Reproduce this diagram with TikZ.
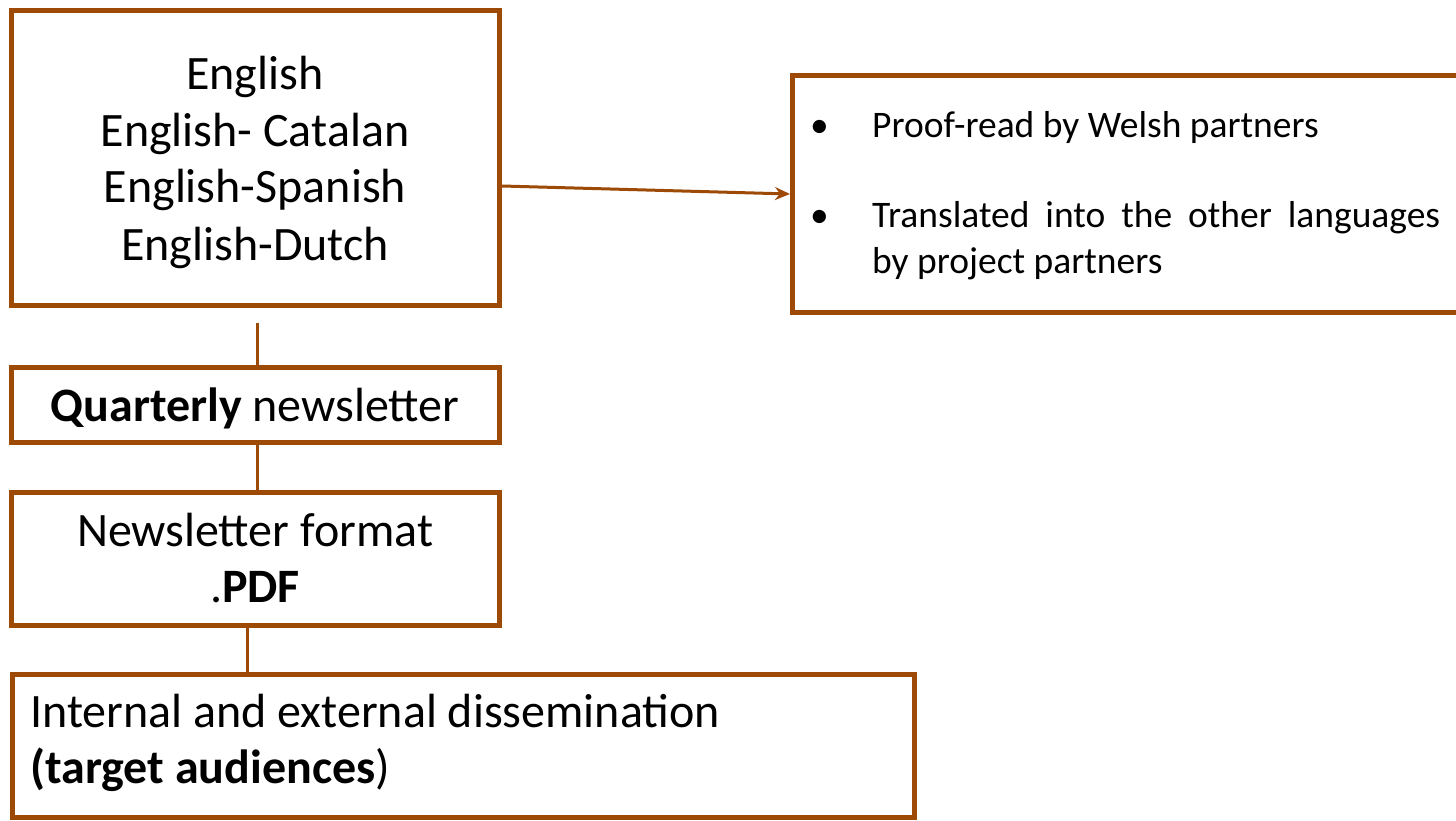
\documentclass[tikz,border=0pt]{standalone}
\usepackage{fontspec}
\setmainfont{Carlito}
\usetikzlibrary{arrows.meta}
\definecolor{brn}{RGB}{156,74,6}
\tikzset{
  box/.style={draw=brn, line width=5pt, fill=white, inner sep=0pt},
  conn/.style={draw=brn, line width=3pt},
  arr/.style={draw=brn, line width=3pt, -{Stealth[length=15pt,width=13pt]}},
  big/.style={inner sep=0pt, anchor=base, font=\fontsize{48}{57}\selectfont},
  bigl/.style={inner sep=0pt, anchor=base west, font=\fontsize{48}{57}\selectfont},
  small/.style={inner sep=0pt, anchor=base west, font=\fontsize{37.5}{45}\selectfont},
}
\begin{document}
\begin{tikzpicture}[x=1pt,y=-1pt]
\useasboundingbox (0,0) rectangle (1456,821);
% boxes
\node[box, minimum width=488pt, minimum height=295pt] (b1) at (255.5,158) {};
\node[box, minimum width=488pt, minimum height=75pt] (b2) at (255.5,405) {};
\node[box, minimum width=488pt, minimum height=133pt] (b3) at (255.5,559) {};
\node[box, minimum width=902pt, minimum height=143pt] (b4) at (463.5,746) {};
\node[box, minimum width=700pt, minimum height=237.5pt, anchor=west] (b5) at (790,194) {};
% texts box 1
\node[big] (t11) at (255,90) {English};
\node[big] (t12) at (255,147) {English- Catalan};
\node[big] (t13) at (255,203) {English-Spanish};
\node[big] (t14) at (255,260) {English-Dutch};
% box 2
\node[big] (t2) at (255,421) {\textbf{Quarterly} newsletter};
% box 3
\node[big] (t31) at (255,546) {Newsletter format};
\node[big] (t32) at (255,602) {.\textbf{PDF}};
% box 4
\node[bigl] (t41) at (30,727) {Internal and external dissemination};
\node[bigl] (t42) at (30,783) {\textbf{(target audiences})};
% box 5
\node[small] (p1) at (810,138) {\textbullet};
\node[small] (p2) at (872,138) {Proof-read by Welsh partners};
\node[small] (p3) at (810,228) {\textbullet};
\node[small] (p4) at (872,228) {\makebox[568pt][s]{Translated into the other languages}};
\node[small] (p5) at (872,273) {by project partners};
% connectors
\draw[arr] ([yshift=-28pt]b1.east) -- (b5.west);
\draw[conn] ([xshift=1.5pt,yshift=-15pt]b1.south) -- ([xshift=1.5pt]b2.north);
\draw[conn] ([xshift=1.5pt]b2.south) -- ([xshift=1.5pt]b3.north);
\draw[conn] ([xshift=-8.5pt]b3.south) -- ([xshift=-8.5pt]b3.south |- b4.north);
\end{tikzpicture}
\end{document}
